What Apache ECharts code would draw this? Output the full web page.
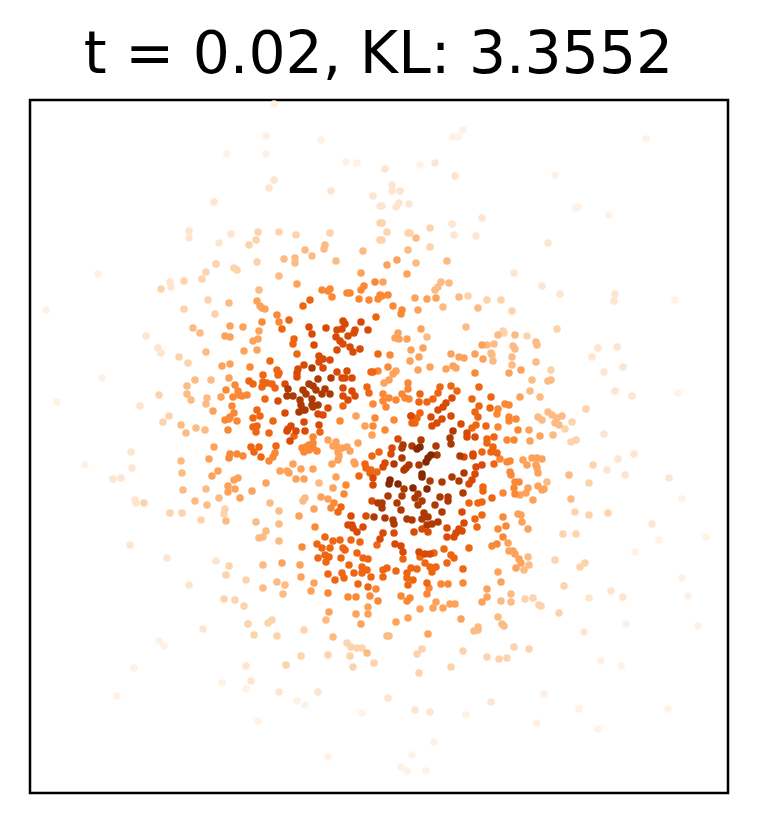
<!DOCTYPE html>
<html>
<head>
<meta charset="utf-8">
<style>html,body{margin:0;padding:0;background:#fff}</style>
<script src="https://cdn.jsdelivr.net/npm/echarts@6/dist/echarts.min.js"></script>
</head>
<body>
<div id="main" style="width:757px;height:823px"></div>
<script>
var titleText = 't = 0.02, KL: 3.3552';
// points, grouped by shade from palest to darkest
var band0 = [[274,104],[266,136],[321,140],[227,154],[266,154],[346,162],[357,163],[98,274],[46,310],[463,130],[453,137],[458,137],[646,139],[420,165],[555,175],[578,207],[575,208],[609,215],[675,300],[102,378],[57,402],[85,465],[678,393],[682,499],[706,537],[635,552],[659,540],[159,641],[164,646],[134,668],[117,696],[222,683],[246,689],[297,701],[305,705],[362,713],[258,721],[328,757],[682,578],[688,596],[626,624],[698,626],[601,661],[621,666],[466,715],[544,694],[537,723],[579,709],[598,729],[668,709],[434,742],[412,755],[401,767],[407,771],[426,771]];
var band1 = [[274,180],[269,188],[331,191],[373,196],[214,202],[380,206],[189,231],[189,238],[231,234],[219,243],[170,282],[171,287],[385,169],[435,163],[455,176],[392,185],[392,191],[400,191],[382,206],[399,203],[396,207],[409,204],[482,218],[452,224],[454,235],[476,236],[548,243],[514,273],[542,286],[560,294],[615,294],[614,301],[146,336],[158,348],[161,353],[140,406],[131,452],[132,468],[121,478],[113,479],[135,500],[136,503],[130,545],[167,558],[216,561],[189,585],[203,629],[246,666],[251,681],[279,692],[318,692],[598,348],[617,347],[592,357],[623,367],[604,372],[615,391],[632,396],[604,434],[618,459],[607,470],[625,475],[634,454],[669,478],[652,524],[589,598],[611,591],[623,597],[584,632],[388,698],[415,710],[430,712],[491,702]];
var band2 = [[258,232],[256,240],[249,245],[279,232],[296,235],[330,233],[380,240],[380,223],[257,262],[216,264],[234,268],[237,270],[206,272],[202,279],[184,281],[161,289],[208,300],[184,309],[215,314],[382,223],[430,228],[387,232],[408,233],[410,233],[382,240],[430,247],[468,296],[487,300],[501,300],[512,311],[503,331],[557,329],[179,357],[188,363],[159,395],[169,416],[163,422],[144,503],[170,513],[182,513],[225,509],[224,514],[201,520],[504,333],[527,336],[551,370],[586,409],[576,440],[571,442],[565,429],[572,422],[563,534],[576,534],[575,512],[589,515],[608,513],[589,483],[593,465],[555,560],[229,566],[226,575],[246,580],[224,599],[235,600],[244,606],[248,624],[268,623],[272,620],[254,635],[277,636],[304,630],[347,643],[351,647],[357,648],[362,648],[350,656],[328,655],[301,656],[286,665],[353,667],[374,663],[422,649],[417,654],[463,651],[539,605],[541,606],[559,613],[533,598],[525,599],[564,586],[580,567],[585,563],[514,647],[529,649],[487,657],[499,659],[507,658],[451,667],[419,673]];
var band3 = [[325,245],[324,249],[305,250],[312,256],[363,251],[295,258],[295,263],[284,259],[336,261],[279,276],[259,290],[229,303],[193,328],[416,238],[408,250],[447,261],[416,263],[441,282],[449,283],[438,287],[435,290],[459,297],[443,307],[478,308],[466,327],[206,352],[200,333],[211,380],[195,380],[187,386],[187,394],[191,400],[207,398],[206,404],[181,425],[186,433],[196,428],[205,430],[182,473],[181,461],[206,489],[183,490],[219,498],[195,501],[207,505],[226,521],[270,503],[279,511],[256,522],[279,524],[266,531],[263,537],[259,538],[279,541],[319,483],[305,498],[303,501],[427,337],[498,335],[515,335],[536,342],[537,345],[487,345],[494,344],[513,346],[515,349],[491,353],[492,355],[493,361],[512,357],[512,365],[536,362],[548,381],[551,380],[532,380],[540,397],[530,391],[538,417],[542,420],[548,412],[552,415],[562,416],[557,418],[555,423],[559,425],[553,435],[571,499],[569,475],[547,482],[528,557],[263,565],[263,588],[283,594],[277,582],[285,585],[326,620],[333,637],[367,653],[387,636],[389,636],[478,627],[478,630],[474,631],[498,617],[502,624],[504,626],[511,594],[511,602],[501,601],[524,570],[529,565]];
var band4 = [[361,273],[297,284],[257,301],[260,306],[262,308],[265,309],[230,326],[243,327],[259,331],[397,260],[387,265],[407,274],[383,282],[415,298],[427,299],[436,298],[418,310],[421,329],[225,336],[230,337],[258,339],[253,341],[244,351],[257,350],[222,366],[230,364],[229,378],[221,397],[213,411],[356,416],[365,426],[372,435],[358,443],[328,440],[336,442],[333,446],[337,447],[342,448],[347,447],[350,451],[338,452],[339,456],[338,460],[332,464],[214,447],[209,459],[293,464],[280,471],[287,471],[289,473],[301,469],[313,469],[296,479],[304,479],[336,477],[354,462],[355,464],[333,488],[321,497],[328,499],[314,509],[299,516],[238,478],[234,480],[228,486],[235,489],[228,492],[218,471],[212,476],[240,498],[252,491],[266,483],[398,333],[395,338],[399,339],[407,339],[411,350],[423,348],[419,357],[410,361],[418,370],[430,367],[451,354],[459,357],[464,358],[475,354],[482,345],[483,359],[446,369],[453,366],[456,368],[521,370],[509,373],[520,397],[384,383],[389,380],[393,374],[396,371],[529,430],[540,436],[530,441],[523,460],[527,465],[532,458],[537,458],[542,459],[536,465],[537,468],[538,473],[520,495],[526,493],[528,488],[538,486],[542,490],[544,489],[533,500],[518,514],[521,515],[522,522],[528,529],[508,543],[509,551],[513,551],[515,554],[519,559],[314,583],[311,591],[329,612],[361,624],[300,565],[301,577],[282,563],[368,607],[368,614],[356,614],[420,609],[433,608],[443,608],[450,604],[455,604],[461,619],[408,618],[396,622],[428,634],[498,572],[501,582],[487,589],[487,597],[482,602],[516,568],[521,563],[436,602]];
var band5 = [[375,282],[364,286],[361,290],[322,290],[328,291],[330,289],[347,293],[350,293],[332,297],[369,300],[382,296],[388,295],[393,306],[402,310],[401,314],[277,315],[279,322],[262,322],[359,299],[378,299],[380,295],[378,371],[373,404],[235,385],[226,390],[238,391],[239,395],[247,395],[242,396],[233,397],[232,406],[234,413],[230,417],[225,420],[229,419],[237,421],[228,430],[250,367],[313,437],[340,421],[375,418],[373,426],[313,443],[309,445],[306,447],[302,448],[313,448],[317,451],[304,452],[309,450],[230,454],[229,458],[237,454],[243,456],[275,453],[273,457],[269,461],[346,485],[344,494],[334,503],[331,508],[315,527],[302,547],[390,355],[388,367],[475,373],[505,404],[509,405],[498,409],[497,414],[509,417],[509,421],[516,419],[518,430],[498,427],[507,440],[514,440],[500,459],[507,462],[510,461],[510,472],[511,475],[515,482],[519,482],[514,488],[515,494],[503,493],[503,517],[506,526],[498,529],[503,537],[492,546],[497,544],[394,420],[385,430],[408,383],[408,389],[402,394],[405,398],[409,399],[396,400],[389,398],[383,394],[383,401],[386,407],[328,593],[348,597],[356,597],[370,596],[378,601],[376,589],[463,583],[441,584],[448,584],[429,588],[427,594],[401,596],[410,598],[407,601]];
var band6 = [[289,320],[376,317],[282,329],[310,300],[303,306],[294,339],[293,344],[297,354],[378,354],[270,361],[263,375],[277,370],[279,373],[278,375],[371,372],[373,372],[367,387],[369,393],[343,406],[265,399],[263,382],[267,383],[262,387],[272,384],[275,388],[249,381],[253,384],[257,410],[253,418],[260,416],[253,427],[257,426],[256,432],[273,421],[269,433],[320,432],[294,436],[251,447],[254,452],[259,447],[261,457],[276,446],[372,456],[379,452],[365,464],[366,468],[371,470],[377,472],[370,473],[359,476],[341,507],[338,512],[325,537],[333,541],[340,540],[351,540],[360,542],[377,545],[317,544],[322,548],[330,548],[343,548],[345,550],[357,553],[325,555],[329,557],[318,558],[341,558],[363,558],[368,559],[479,387],[491,397],[472,399],[490,408],[479,406],[475,412],[478,417],[486,426],[476,425],[472,428],[494,437],[487,439],[487,443],[493,447],[482,452],[491,452],[497,453],[494,464],[492,498],[482,502],[478,503],[469,503],[483,487],[483,491],[475,519],[482,515],[477,527],[469,548],[411,416],[420,413],[417,418],[415,423],[412,423],[427,402],[433,399],[419,402],[420,394],[438,393],[440,387],[451,386],[457,391],[434,553],[444,549],[451,555],[454,558],[420,557],[403,559],[326,562],[328,574],[335,580],[342,573],[344,578],[349,565],[354,573],[362,567],[362,573],[367,570],[371,577],[358,584],[368,587],[387,568],[383,570],[383,577],[396,571],[407,573],[407,578],[413,580],[408,585],[411,568],[417,569],[425,563],[430,567],[436,567],[432,572],[447,563],[463,569],[427,583]];
var band7 = [[309,327],[326,328],[343,321],[345,324],[361,322],[337,330],[342,329],[355,330],[368,330],[312,334],[314,345],[336,337],[340,341],[337,350],[343,344],[348,336],[354,333],[350,347],[353,352],[360,349],[319,356],[323,359],[319,362],[330,360],[323,368],[304,365],[298,369],[297,373],[297,377],[337,372],[347,371],[342,378],[345,378],[352,378],[343,388],[352,391],[355,396],[343,396],[348,400],[285,384],[278,401],[285,413],[328,408],[318,414],[323,415],[304,422],[319,425],[305,431],[291,426],[288,429],[296,431],[287,431],[290,441],[373,478],[373,485],[372,501],[351,516],[366,516],[348,525],[352,525],[353,528],[357,532],[363,527],[467,433],[467,437],[475,437],[461,424],[475,474],[472,480],[469,484],[476,467],[482,465],[473,454],[473,456],[464,457],[462,512],[398,439],[392,448],[391,454],[385,463],[383,467],[422,529],[428,532],[414,532],[394,533],[383,533],[380,539],[447,528],[459,529],[462,531],[456,533],[454,537],[447,537],[464,523],[395,544],[401,546],[403,552],[419,552],[425,554],[430,554],[431,417],[442,419],[437,423],[432,426],[451,416],[438,410],[443,407],[446,403],[452,398],[411,416]];
var band8 = [[312,368],[331,378],[318,379],[309,384],[313,386],[316,390],[325,389],[322,394],[330,394],[303,390],[306,394],[288,389],[287,396],[293,396],[300,400],[312,399],[301,405],[312,405],[318,405],[313,407],[303,410],[305,410],[299,412],[378,503],[374,517],[453,431],[450,438],[451,444],[460,456],[464,473],[459,481],[452,477],[463,493],[448,497],[448,501],[440,497],[442,512],[435,505],[442,482],[430,481],[418,494],[415,498],[422,501],[418,505],[402,496],[404,489],[388,496],[397,503],[401,510],[424,513],[428,517],[422,519],[407,519],[412,520],[393,520],[394,524],[385,518],[382,503],[382,508],[427,525],[432,524],[438,522],[421,440],[403,445],[402,448],[412,446],[436,446],[437,455],[402,458],[394,464],[409,465],[406,468],[404,470],[419,465]];
var band9 = [[422,474],[422,477],[427,489],[413,488],[398,484],[390,480],[389,484],[417,449],[420,447],[431,455],[428,458],[426,462]];
var bands = [band0, band1, band2, band3, band4, band5, band6, band7, band8, band9];
var bandColors = ['#fff1e4', '#fee5cf', '#fdd3ab', '#fdbb84', '#fda25a', '#fb8835', '#ef6612', '#d84a05', '#ad3a03', '#842904'];

var myChart = echarts.init(document.getElementById('main'));
var option = {
	animation: false,
	title: {
		text: titleText,
		left: 'center',
		top: 24,
		textStyle: { fontFamily: 'DejaVu Sans', fontSize: 58.4, fontWeight: 'normal', color: '#000' }
	},
	grid: { left: 30, right: 29, top: 100, bottom: 30, show: true, borderColor: '#000', borderWidth: 2.5, backgroundColor: '#fff' },
	xAxis: {
		type: 'value', min: 30, max: 728,
		axisLine: { show: false }, axisTick: { show: false }, axisLabel: { show: false }, splitLine: { show: false }
	},
	yAxis: {
		type: 'value', min: 100, max: 793, inverse: true,
		axisLine: { show: false }, axisTick: { show: false }, axisLabel: { show: false }, splitLine: { show: false }
	},
	series: bands.map(function (pts, i) {
		return {
			type: 'scatter',
			data: pts,
			symbolSize: 7.5,
			itemStyle: { color: bandColors[i], opacity: 1 },
			silent: true
		};
	})
};
myChart.setOption(option);
</script>
</body>
</html>
